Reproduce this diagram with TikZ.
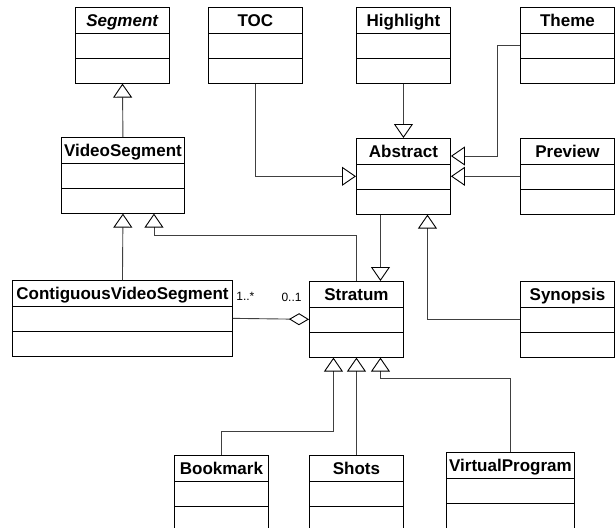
\documentclass[tikz,border=0pt]{standalone}
\usepackage{fontspec}
\setmainfont{Liberation Sans}
\usetikzlibrary{shapes,arrows.meta,positioning,calc}

\newcommand{\hdr}[1]{\rule[-6pt]{0pt}{25pt}#1}
\newcommand{\cmp}{\rule{0pt}{24pt}}

\begin{document}
\begin{tikzpicture}[x=1pt, y=-1pt,
    cls/.style={rectangle split, rectangle split parts=3, draw, line width=0.9pt,
      anchor=north west, inner xsep=2pt, inner ysep=0pt, text width=#1, align=center,
      font=\fontsize{17}{20}\selectfont\bfseries},
    gen/.style={draw=black!75, line width=0.9pt,
      -{Triangle[open, length=14pt, width=19pt, color=black]}},
    agg/.style={draw=black!75, line width=0.9pt,
      -{Diamond[open, length=20pt, width=12pt, color=black]}},
    mult/.style={inner sep=0pt, font=\fontsize{12}{14}\selectfont}
  ]
    \useasboundingbox (0,0) rectangle (615,527);

    % top row
    \node[cls=90pt] (seg) at (75,7) {\hdr{\textit{Segment}} \nodepart{two}\cmp \nodepart{three}\cmp};
    \node[cls=90pt] (toc) at (208,7) {\hdr{TOC} \nodepart{two}\cmp \nodepart{three}\cmp};
    \node[cls=90pt] (high) at (356,7) {\hdr{Highlight} \nodepart{two}\cmp \nodepart{three}\cmp};
    \node[cls=90pt] (theme) at (520,7) {\hdr{Theme} \nodepart{two}\cmp \nodepart{three}\cmp};

    % second row
    \node[cls=119pt] (vseg) at (61,137) {\hdr{VideoSegment} \nodepart{two}\cmp \nodepart{three}\cmp};
    \node[cls=90pt] (abs) at (356,138) {\hdr{Abstract} \nodepart{two}\cmp \nodepart{three}\cmp};
    \node[cls=90pt] (prev) at (520,138) {\hdr{Preview} \nodepart{two}\cmp \nodepart{three}\cmp};

    % third row
    \node[cls=216pt] (cvs) at (12,280) {\hdr{ContiguousVideoSegment} \nodepart{two}\cmp \nodepart{three}\cmp};
    \node[cls=90pt] (strat) at (309,281) {\hdr{Stratum} \nodepart{two}\cmp \nodepart{three}\cmp};
    \node[cls=90pt] (syn) at (520,281) {\hdr{Synopsis} \nodepart{two}\cmp \nodepart{three}\cmp};

    % bottom row
    \node[cls=90pt] (book) at (174,455) {\hdr{Bookmark} \nodepart{two}\cmp \nodepart{three}\cmp};
    \node[cls=90pt] (shots) at (309,455) {\hdr{Shots} \nodepart{two}\cmp \nodepart{three}\cmp};
    \node[cls=124pt] (vp) at (446,452) {\hdr{VirtualProgram} \nodepart{two}\cmp \nodepart{three}\cmp};

    % generalisations
    \draw[gen] (vseg.north) -- (seg.south);
    \draw[gen] (cvs.north) -- (vseg.south);
    \draw[gen] (strat.north) -- ++(0,-46) -| ([xshift=31pt]vseg.south);
    \draw[gen] (toc.south) |- (abs.west);
    \draw[gen] (high.south) -- (abs.north);
    \draw[gen] ([yshift=-12pt]theme.one split west) -- ++(-23,0) |- ([yshift=-18pt]abs.north east);
    \draw[gen] (prev.west) -- (abs.east);
    \draw[gen] ([xshift=-23pt]abs.south) -- ([xshift=24pt]strat.north);
    \draw[gen] ([yshift=-12pt]syn.one split west) -| ([xshift=24pt]abs.south);
    \draw[gen] (book.north) -- ++(0,-24) -| ([xshift=-23pt]strat.south);
    \draw[gen] (shots.north) -- (strat.south);
    \draw[gen] (vp.north) -- ++(0,-74) -| ([xshift=24pt]strat.south);

    % aggregation
    \draw[agg] ([yshift=-12pt]cvs.one split east) -- ([yshift=-12pt]strat.one split west)
      node[mult, at start, anchor=base west, xshift=3pt, yshift=18pt] (m1) {1..*}
      node[mult, at end, anchor=base east, xshift=-7pt, yshift=18pt] (m2) {0..1};
\end{tikzpicture}
\end{document}
